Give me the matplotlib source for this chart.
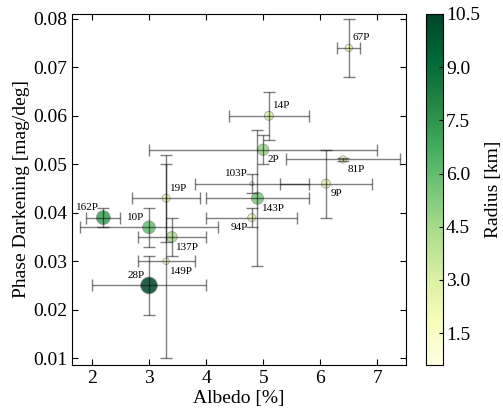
import matplotlib
matplotlib.use('Agg')
import matplotlib.pyplot as plt
from numpy import array

plt.rcParams['font.family'] = 'serif'
plt.rcParams['font.serif'] = ['Liberation Serif', 'DejaVu Serif']
plt.rcParams['font.size'] = 14
plt.rcParams['mathtext.fontset'] = 'stix'

names = ['67P', '14P', '2P', '81P', '9P', '103P', '143P', '94P',
         '19P', '149P', '162P', '10P', '137P', '28P']
albedo = array([6.5, 5.1, 5.0, 6.4, 6.1, 4.8, 4.9, 4.8,
                3.3, 3.3, 2.2, 3.0, 3.4, 3.0])
albedo_err = array([0.2, 0.7, 2.0, 1.0, 0.8, 1.0, 0.9, 0.8,
                    0.6, 0.5, 0.3, 1.2, 0.6, 1.0])
phase = array([0.074, 0.060, 0.053, 0.051, 0.046, 0.046, 0.043, 0.039,
               0.043, 0.030, 0.039, 0.037, 0.035, 0.025])
phase_err = array([0.006, 0.005, 0.003, 0.0003, 0.007, 0.002, 0.014, 0.002,
                   0.009, 0.020, 0.002, 0.004, 0.004, 0.006])
radius = array([2.0, 3.0, 4.8, 2.0, 3.0, 0.6, 5.5, 2.4,
                2.4, 1.6, 7.2, 6.0, 4.3, 10.5])

# where each label sits relative to its point
label_pos = {'67P': 'ur', '14P': 'ur', '2P': 'dr', '81P': 'dr', '9P': 'dr',
             '103P': 'ul', '143P': 'dr', '94P': 'dl', '19P': 'ur',
             '149P': 'dr', '162P': 'ul', '10P': 'ul', '137P': 'dr',
             '28P': 'ul'}

fig = plt.figure(figsize=(5.03, 4.11), dpi=100)
ax = fig.add_axes([0.143, 0.112, 0.664, 0.854])
cax = fig.add_axes([0.847, 0.112, 0.034, 0.854])

ax.errorbar(albedo, phase, xerr=albedo_err, yerr=phase_err, fmt='none',
            ecolor='k', alpha=0.5, elinewidth=1, capsize=4, zorder=3)
sc = ax.scatter(albedo, phase, s=radius * 14, c=radius, cmap='YlGn',
                vmin=0.6, vmax=10.5, alpha=0.85, edgecolors='0.6',
                linewidths=0.6, zorder=2)

for n, x, y in zip(names, albedo, phase):
    p = label_pos[n]
    dx = 3 if p[1] == 'r' else -3
    dy = 4 if p[0] == 'u' else -4
    ax.annotate(n, (x, y), xytext=(dx, dy), textcoords='offset points',
                ha='left' if dx > 0 else 'right',
                va='bottom' if dy > 0 else 'top', fontsize=8)

ax.set_xlim(1.65, 7.5)
ax.set_ylim(0.0086, 0.081)
ax.set_xticks([2, 3, 4, 5, 6, 7])
ax.set_yticks([0.01, 0.02, 0.03, 0.04, 0.05, 0.06, 0.07, 0.08])
ax.tick_params(direction='in', top=True, right=True, length=4)
ax.set_xlabel('Albedo [%]', labelpad=2)
ax.set_ylabel('Phase Darkening [mag/deg]', labelpad=2)

cb = fig.colorbar(sc, cax=cax)
cb.set_ticks([1.5, 3.0, 4.5, 6.0, 7.5, 9.0, 10.5])
cb.ax.tick_params(direction='in', length=3, pad=2)
cb.set_label('Radius [km]', labelpad=4)
cb.solids.set_alpha(1)

fig.savefig('out.png', dpi=100)
